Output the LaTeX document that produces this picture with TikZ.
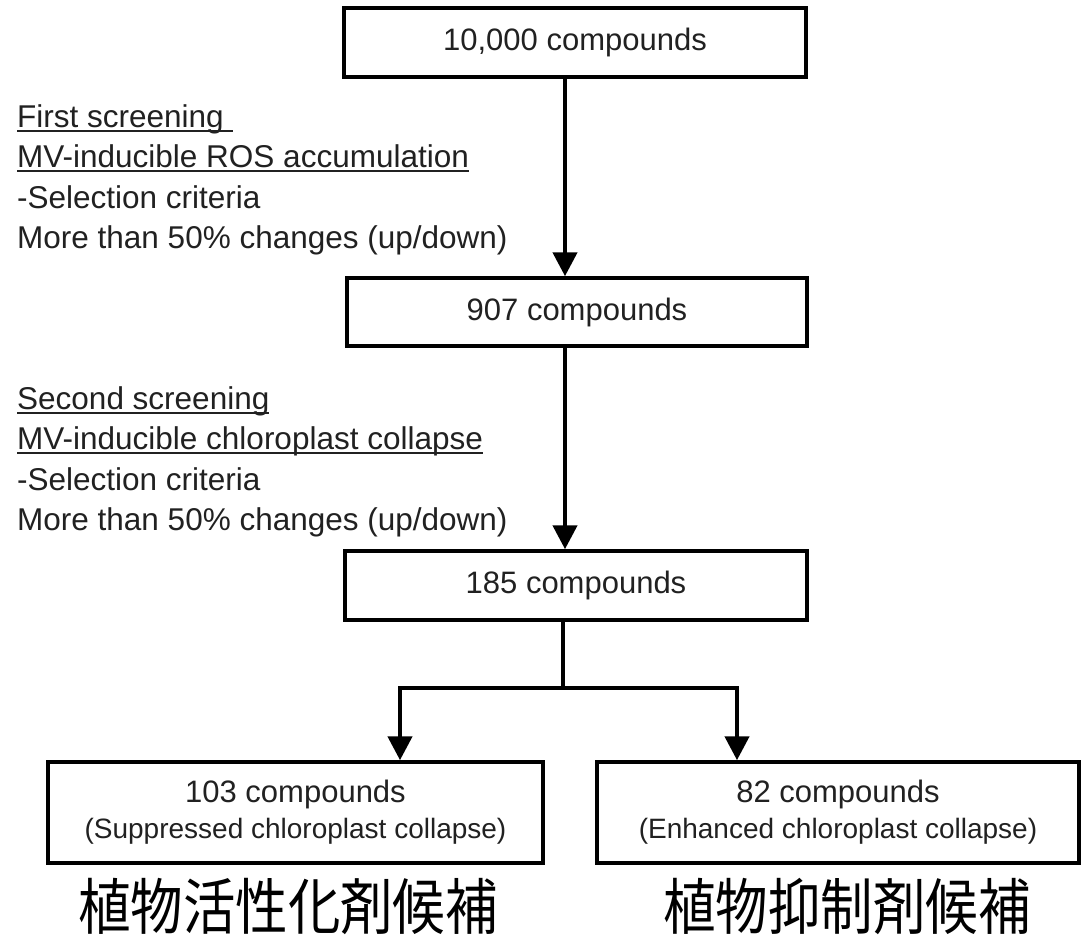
\documentclass[tikz,border=0pt]{standalone}
\usepackage{fontspec}
\usepackage{graphicx}
\setmainfont{Liberation Sans}
\newfontfamily\jpfont{Noto Sans CJK JP}
\usetikzlibrary{arrows.meta}
\definecolor{txt}{gray}{0.13}

% underline drawn as a rule just below the baseline
\newlength\ulwd
\newcommand\ulword[1]{\settowidth\ulwd{#1}\rlap{\rule[-4.6pt]{\ulwd}{1.8pt}}#1}
% narrow-set Japanese label
\newcommand\jplabel[1]{\scalebox{0.86}[1]{\jpfont\fontsize{61}{61}\selectfont #1}}

\begin{document}
\begin{tikzpicture}[x=1pt,y=-1pt,
  box/.style={draw=black, line width=3.5pt, fill=white, inner sep=0pt,
    align=center, text=txt, font=\fontsize{31}{38}\selectfont},
  conn/.style={line width=4.5pt, -{Triangle[width=24pt,length=24pt]}},
  plain/.style={line width=4.5pt},
  note/.style={anchor=north west, align=left, inner sep=0pt, text=txt,
    font=\fontsize{31.5}{40.5}\selectfont},
  cand/.style={inner sep=0pt}]

% page frame
\fill[white] (0,0) rectangle (1081,942);
\useasboundingbox (0,0) rectangle (1081,942);

% screening stages
\node[box, minimum width=462pt, minimum height=69pt] (c10000) at (575,42.5) {10,000 compounds};
\node[box, minimum width=460pt, minimum height=68pt] (c907) at (577,312) {907 compounds};
\node[box, minimum width=462pt, minimum height=69pt] (c185) at (576,585.5) {185 compounds};

% final groups
\node[box, minimum width=495pt, minimum height=101pt] (c103) at (295.5,812.5)
  {103 compounds\\[-2pt]{\fontsize{28}{34}\selectfont (Suppressed chloroplast collapse)}};
\node[box, minimum width=482pt, minimum height=101pt] (c82) at (838,812.5)
  {82 compounds\\[-2pt]{\fontsize{28}{34}\selectfont (Enhanced chloroplast collapse)}};

% candidate labels
\node[cand] (jp1) at (288,906) {\jplabel{植物活性化剤候補}};
\node[cand] (jp2) at (847,906) {\jplabel{植物抑制剤候補}};

% screening criteria
\node[note] (first) at (17,104)
  {\ulword{First screening\ }\\
   \ulword{MV-inducible ROS accumulation}\\
   -Selection criteria\\
   More than 50\% changes (up/down)};
\node[note] (second) at (17,386)
  {\ulword{Second screening}\\
   \ulword{MV-inducible chloroplast collapse}\\
   -Selection criteria\\
   More than 50\% changes (up/down)};

% connectors
\draw[conn] ([xshift=-10pt]c10000.south) -- ([xshift=-12pt]c907.north);
\draw[conn] ([xshift=-12pt]c907.south) -- ([xshift=-11pt]c185.north);

\coordinate (fork) at (563,688);
\coordinate (forkL) at (400,688);
\coordinate (forkR) at (737,688);
\draw[plain] ([xshift=-13pt]c185.south) -- (fork);
\draw[conn] (fork) -- (forkL) -- (c103.north -| forkL);
\draw[conn] (fork) -- (forkR) -- (c82.north -| forkR);
\end{tikzpicture}
\end{document}
